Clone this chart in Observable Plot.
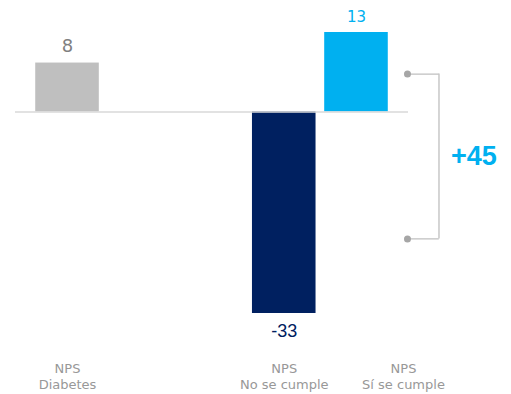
<!DOCTYPE html>
<html>
<head>
<meta charset="utf-8">
<script src="https://cdn.jsdelivr.net/npm/d3@7"></script>
<script src="https://cdn.jsdelivr.net/npm/@observablehq/plot@0.6"></script>
<style>
  html, body { margin: 0; padding: 0; background: #fff; }
</style>
</head>
<body>
<div id="chart"></div>
<script>
// Data
const categories = ["Diabetes", "gap1", "gap2", "No se cumple", "Sí se cumple"];
const barCategories = ["Diabetes", "No se cumple", "Sí se cumple"];
const values = [8, -33, 13];
const colors = ["#bfbfbf", "#002060", "#00b0f0"];
const labelColors = ["#808080", "#002060", "#00b0f0"];
const tickLabels = ["NPS\nDiabetes", "NPS\nNo se cumple", "NPS\nSí se cumple"];
const bracketY = [6.2, -20.8];
const diffLabel = "+45";

const data = barCategories.map((c, i) => ({cat: c, value: values[i], color: colors[i], labelColor: labelColors[i], tick: tickLabels[i]}));
const neg = data.filter(d => d.value < 0);
const last = barCategories[barCategories.length - 1];
const bracket = bracketY.map(v => ({cat: last, y: v}));

const chart = Plot.plot({
  width: 511,
  height: 394,
  marginTop: 32,
  marginBottom: 81,
  marginLeft: 15,
  marginRight: 103,
  style: {fontFamily: "DejaVu Sans, sans-serif", background: "#fff"},
  x: {domain: categories, paddingInner: 0.12, paddingOuter: 0.28, round: false, axis: null},
  y: {domain: [-33, 13], axis: null},
  marks: [
    Plot.barY(data, {x: "cat", y: "value", fill: "color"}),
    Plot.ruleY([0], {stroke: "#d9d9d9", strokeWidth: 1.5}),
    Plot.text(data.filter(d => d.cat === "Diabetes"), {x: "cat", y: "value", text: d => String(d.value), fill: "labelColor", dy: -17, fontSize: 18, fontFamily: "DejaVu Sans, sans-serif"}),
    Plot.text(data.filter(d => d.cat === last), {x: "cat", y: "value", text: d => String(d.value), fill: "labelColor", dy: -15, fontSize: 15, fontFamily: "DejaVu Sans, sans-serif"}),
    Plot.text(neg, {x: "cat", y: "value", text: d => String(d.value), fill: "labelColor", dy: 18, fontSize: 18, fontFamily: "Liberation Sans, Arial, sans-serif"}),
    // x labels
    Plot.text(data.filter(d => d.cat !== last), {x: "cat", y: -33, text: "tick", fill: "#989898", dy: 62, fontSize: 13, lineHeight: 1.25}),
    Plot.text(data.filter(d => d.cat === last), {x: "cat", y: -33, text: "tick", fill: "#989898", dy: 62, dx: 47, fontSize: 13, lineHeight: 1.25}),
    // bracket
    Plot.tickY(bracket, {x: "cat", y: "y", stroke: "#bfbfbf", strokeWidth: 1.3, dx: 51, insetLeft: 31}),
    Plot.ruleX([last], {x: d => d, y1: bracketY[0], y2: bracketY[1], stroke: "#bfbfbf", strokeWidth: 1.3, dx: 82.5}),
    Plot.dot(bracket, {x: "cat", y: "y", r: 3.5, fill: "#a6a6a6", dx: 51}),
    Plot.text([diffLabel], {x: () => last, y: (bracketY[0] + bracketY[1]) / 2, text: d => d, fill: "#00b0f0", fontSize: 27, fontWeight: "bold", fontFamily: "Liberation Sans, Arial, sans-serif", dx: 117.5, dy: 0})
  ]
});
document.getElementById("chart").appendChild(chart);
</script>
</body>
</html>
